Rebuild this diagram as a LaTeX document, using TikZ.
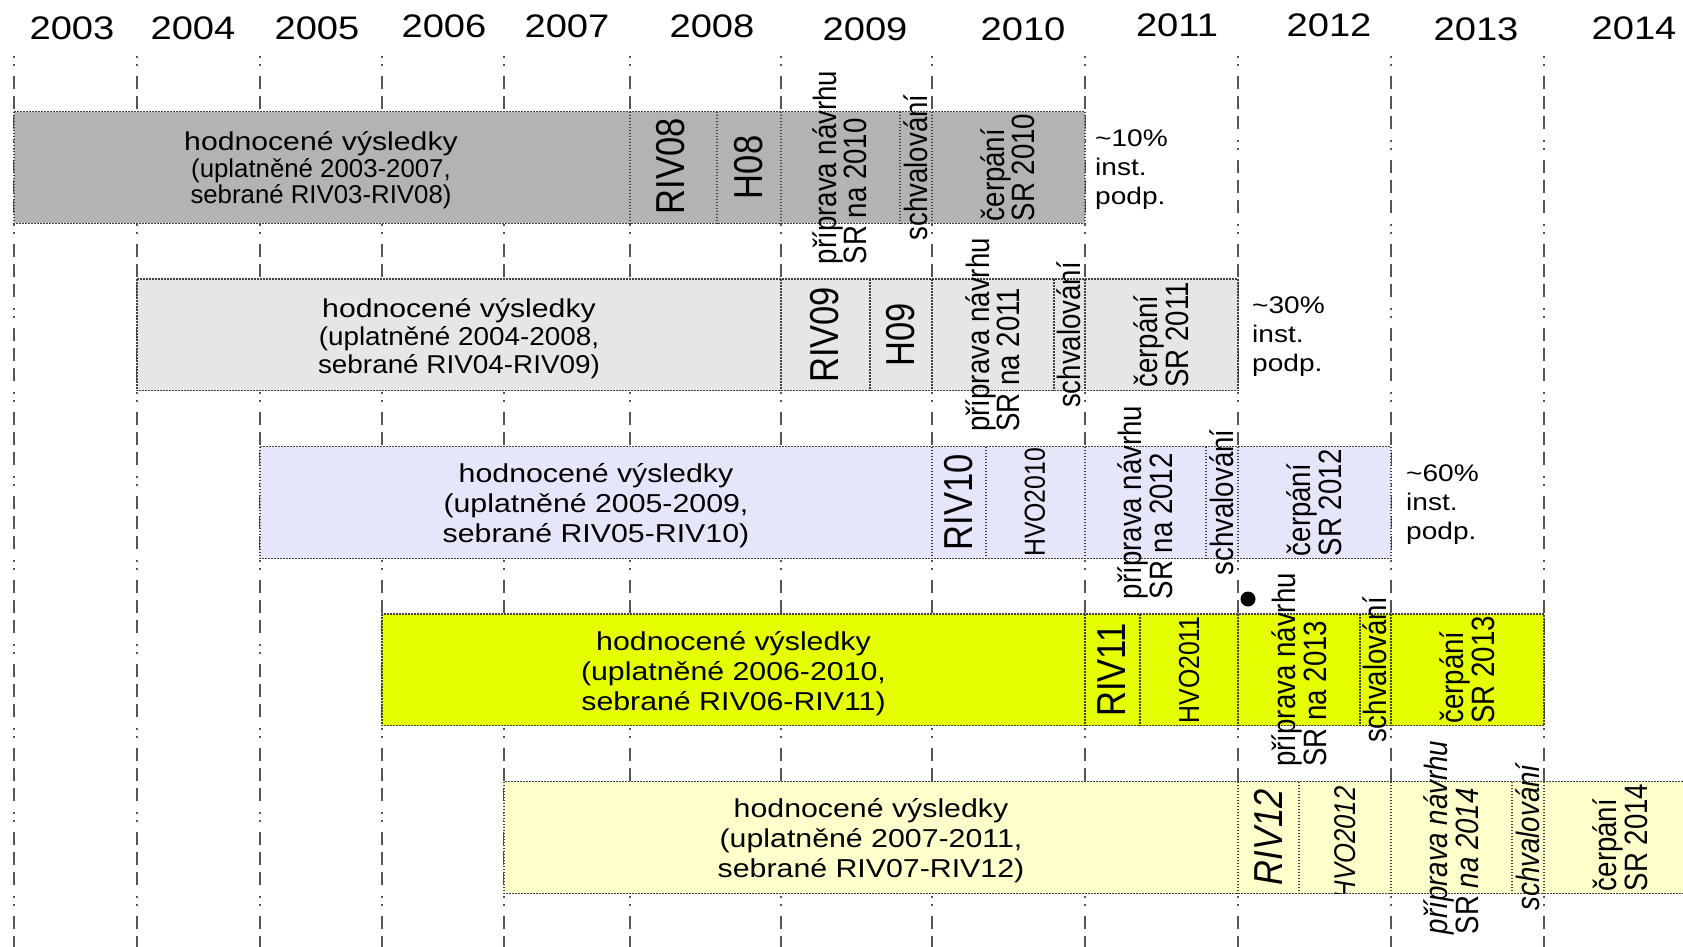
\documentclass[tikz,border=0pt]{standalone}
\usepackage{fontspec}
\setmainfont{Liberation Sans}
\newfontfamily\widefam[FakeStretch=1.17]{Liberation Sans}
\newfontfamily\midfam[FakeStretch=1.08]{Liberation Sans}
\newfontfamily\narrowfam[FakeStretch=0.855]{Liberation Sans}
\newcommand{\ttlfont}{\widefam\fontsize{25.8}{26.5}\selectfont}
\newcommand{\ttlfontB}{\widefam\fontsize{25.8}{28}\selectfont}
\newcommand{\lnplain}{\rmfamily\fontsize{25.8}{26.5}\selectfont}
\newcommand{\lnmid}{\midfam\fontsize{25.8}{28}\selectfont}
\newcommand{\lnwide}{\widefam\fontsize{25.9}{30}\selectfont}
\definecolor{rowA}{HTML}{B3B3B3}
\definecolor{rowB}{HTML}{E6E6E6}
\definecolor{rowC}{HTML}{E6E6FA}
\definecolor{rowD}{HTML}{E6FF00}
\definecolor{rowE}{HTML}{FFFFCC}
\definecolor{gridline}{HTML}{555555}
\definecolor{cellline}{HTML}{404040}
\begin{document}
\begin{tikzpicture}[x=1pt,y=-1pt,
  yearline/.style={draw=gridline, line width=1.6pt,
    dash pattern=on 2pt off 6pt on 2pt off 10pt on 13pt off 7pt on 13pt off 7pt on 13pt off 11pt},
  cellbox/.style={draw=cellline, line width=1.1pt, dash pattern=on 1.5pt off 1.5pt},
  yr/.style={inner sep=0pt, font=\widefam\fontsize{32.6}{34}\selectfont},
  maintext/.style={inner sep=0pt, align=center},
  vlab/.style={inner sep=0pt, rotate=90, align=left, font=\narrowfam\fontsize{32.3}{30.5}\selectfont},
  biglab/.style={inner sep=0pt, rotate=90, font=\narrowfam\fontsize{40.4}{42}\selectfont},
  hvolab/.style={inner sep=0pt, rotate=90, font=\narrowfam\fontsize{29}{30}\selectfont},
  pctlab/.style={inner sep=0pt, anchor=west, align=left, font=\widefam\fontsize{24}{29}\selectfont}
]
\useasboundingbox (0,0) rectangle (1683,946);
\clip (0,0) rectangle (1683,946);
\fill[white] (0,0) rectangle (1683,946);

% year labels
\node[yr] (y03) at (72,28) {2003};
\node[yr] (y04) at (193,28) {2004};
\node[yr] (y05) at (317,28) {2005};
\node[yr] (y06) at (444,26) {2006};
\node[yr] (y07) at (567,26) {2007};
\node[yr] (y08) at (712,26) {2008};
\node[yr] (y09) at (865,29) {2009};
\node[yr] (y10) at (1023,29) {2010};
\node[yr] (y11) at (1177,25) {2011};
\node[yr] (y12) at (1329,25) {2012};
\node[yr] (y13) at (1476,29) {2013};
\node[yr] (y14) at (1634,28) {2014};

% year boundary lines
\foreach \x in {14,137,260,382,504,630,781,932,1085,1238,1391,1544}
  \draw[yearline] (\x,56) -- (\x,950);

% Row A
\draw[cellbox, fill=rowA] (14,111.5) rectangle (1085,223.3);
\foreach \x in {630,717,781,900,932} \draw[cellbox] (\x,111.5) -- (\x,223.3);
\node[maintext, font=\ttlfont] (tA) at (321,170.5) {hodnocené výsledky\\\lnplain (uplatněné 2003-2007,\\\lnplain sebrané RIV03-RIV08)};
\node[biglab] (rA) at (671,166) {RIV08};
\node[biglab] (hA) at (749,167.4) {H08};
\node[vlab] (pA) at (840,167.4) {příprava návrhu\\SR na 2010};
\node[vlab] (sA) at (916,167.4) {schvalování};
\node[vlab] (cA) at (1008,167.4) {čerpání\\SR 2010};
\node[pctlab] (qA) at (1095,169.5) {\textasciitilde10\%\\inst.\\podp.};

% Row B
\draw[cellbox, fill=rowB] (137,279) rectangle (1238,390.8);
\foreach \x in {781,870,932,1054,1085} \draw[cellbox] (\x,279) -- (\x,390.8);
\node[maintext, font=\ttlfontB] (tB) at (459,338.8) {hodnocené výsledky\\\lnmid (uplatněné 2004-2008,\\\lnmid sebrané RIV04-RIV09)};
\node[biglab] (rB) at (825,334.9) {RIV09};
\node[biglab] (hB) at (901,334.9) {H09};
\node[vlab] (pB) at (993,334.9) {příprava návrhu\\SR na 2011};
\node[vlab] (sB) at (1069,334.9) {schvalování};
\node[vlab] (cB) at (1161,334.9) {čerpání\\SR 2011};
\node[pctlab] (qB) at (1252,337) {\textasciitilde30\%\\inst.\\podp.};

% Row C
\draw[cellbox, fill=rowC] (260,446.5) rectangle (1391,558.3);
\foreach \x in {932,986,1085,1206,1238} \draw[cellbox] (\x,446.5) -- (\x,558.3);
\node[maintext, font=\lnwide] (tC) at (596,505.3) {hodnocené výsledky\\(uplatněné 2005-2009,\\sebrané RIV05-RIV10)};
\node[biglab] (rC) at (959,502.4) {RIV10};
\node[hvolab] (hC) at (1035,502.4) {HVO2010};
\node[vlab] (pC) at (1145,502.4) {příprava návrhu\\SR na 2012};
\node[vlab] (sC) at (1222,502.4) {schvalování};
\node[vlab] (cC) at (1314,502.4) {čerpání\\SR 2012};
\node[pctlab] (qC) at (1406,504.5) {\textasciitilde60\%\\inst.\\podp.};

% marker dot
\node[circle, fill=black, inner sep=0pt, minimum size=15pt] (dot) at (1248,599) {};

% Row D
\draw[cellbox, fill=rowD] (382,614) rectangle (1544,725.8);
\foreach \x in {1085,1140,1238,1360,1391} \draw[cellbox] (\x,614) -- (\x,725.8);
\node[maintext, font=\lnwide] (tD) at (733.5,673.7) {hodnocené výsledky\\(uplatněné 2006-2010,\\sebrané RIV06-RIV11)};
\node[biglab] (rD) at (1112,669.9) {RIV11};
\node[hvolab] (hD) at (1189,669.9) {HVO2011};
\node[vlab] (pD) at (1299,669.9) {příprava návrhu\\SR na 2013};
\node[vlab] (sD) at (1375,669.9) {schvalování};
\node[vlab] (cD) at (1467,669.9) {čerpání\\SR 2013};

% Row E
\draw[cellbox, fill=rowE] (504,781.5) rectangle (1700,893.3);
\foreach \x in {1238,1299,1391,1512,1544} \draw[cellbox] (\x,781.5) -- (\x,893.3);
\node[maintext, font=\lnwide] (tE) at (871,840.2) {hodnocené výsledky\\(uplatněné 2007-2011,\\sebrané RIV07-RIV12)};
\node[biglab, font=\narrowfam\fontsize{40.4}{42}\selectfont\itshape] (rE) at (1268,837.4) {RIV12};
\begin{scope}
  \clip (1299,781.5) rectangle (1391,893.3);
  \node[hvolab, font=\narrowfam\fontsize{30}{31}\selectfont\itshape] (hE) at (1345,843) {HVO2012};
\end{scope}
\node[vlab] (pE) at (1451,837.4) {\textit{příprava návrhu}\\SR \textit{na 2014}};
\node[vlab, font=\narrowfam\fontsize{32.3}{30.5}\selectfont\itshape] (sE) at (1528,837.4) {schvalování};
\node[vlab] (cE) at (1620,837.4) {čerpání\\SR 2014};
\end{tikzpicture}
\end{document}
